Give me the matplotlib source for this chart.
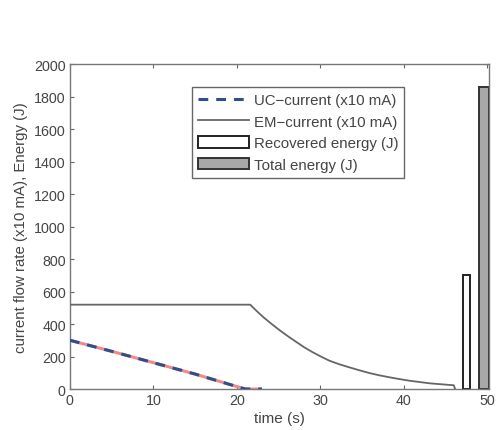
import numpy as np
import matplotlib
matplotlib.use("Agg")
import matplotlib.pyplot as plt

plt.rcParams['font.family'] = ['Liberation Sans', 'DejaVu Sans']

# UC current (x10 mA) over time
uc_t = [0, 5, 10, 15, 20, 21, 23]
uc_i = [300, 232, 162, 92, 15, 0, 0]

# EM current (x10 mA) over time
em_t = [0, 21.6, 22.4, 23.2, 24.2, 25.2, 26.2, 27.2, 28.1, 29.1, 30.1, 31.1, 32.3, 33.5,
        34.7, 35.9, 37.1, 38.3, 39.5, 40.7, 41.9, 43.1, 44.3, 45.5, 46.0, 46.15]
em_i = [519, 519, 479, 441, 399, 359, 322, 287, 256, 226, 199, 174, 152, 133,
        115, 98, 84, 72, 61, 51, 43, 35, 30, 25, 23, 0]

# energy bars (J)
rec_t = [47.5]
rec_e = [700]
tot_t = [49.62]
tot_e = [1860]

fig = plt.figure(figsize=(4.96, 4.31), dpi=100)
ax = fig.add_axes([0.141, 0.0951, 0.8455, 0.754])

txt = '#444444'
ax.plot(uc_t, uc_i, color='#f08a8a', lw=2.2, solid_capstyle='butt', zorder=3)
ax.plot(uc_t, uc_i, color='#2d4f8e', lw=2.2, linestyle=(0, (3.2, 2.6)),
        label='UC\u2212current (x10 mA)', zorder=4)
ax.plot(em_t, em_i, color='#666666', lw=1.3, label='EM\u2212current (x10 mA)', zorder=3)
ax.bar(rec_t, rec_e, width=0.8, color='white', edgecolor='#222222', lw=1.4,
       label='Recovered energy (J)', zorder=2)
ax.bar(tot_t, tot_e, width=1.25, color='#a8a8a8', edgecolor='#333333', lw=1.4,
       label='Total energy (J)', zorder=2)

ax.set_xlim(0, 50.25)
ax.set_ylim(0, 2000)
ax.set_xticks(np.arange(0, 51, 10))
ax.set_yticks(np.arange(0, 2001, 200))
ax.tick_params(direction='in', top=True, right=True, length=3, width=0.8,
               labelsize=10.3, colors='#666666', labelcolor=txt, pad=3)
for s in ax.spines.values():
    s.set_color('#777777')
    s.set_linewidth(1.0)

ax.set_xlabel('time (s)', fontsize=11, color=txt, labelpad=3)
ax.set_ylabel('current flow rate (x10 mA), Energy (J)', fontsize=10.8, color=txt, labelpad=4)

leg = ax.legend(loc='upper left', bbox_to_anchor=(0.29, 0.928), borderaxespad=0,
                fontsize=10.8, fancybox=False, edgecolor='#666666', framealpha=1,
                handlelength=3.4, handleheight=0.8, handletextpad=0.35, labelspacing=0.5,
                borderpad=0.4, labelcolor=txt)
leg.get_frame().set_linewidth(1.0)

fig.savefig('out.png', dpi=100)
